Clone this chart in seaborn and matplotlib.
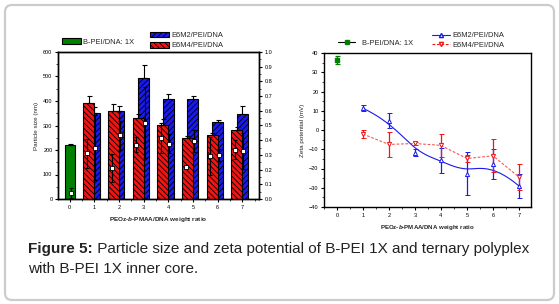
import numpy as np
import pandas as pd
import matplotlib
matplotlib.use('Agg')
import matplotlib.pyplot as plt
import seaborn as sb
from matplotlib.patches import Patch, FancyBboxPatch
from matplotlib.lines import Line2D
from matplotlib.ticker import MultipleLocator

# --- data ---
ratio = np.arange(8)          # PEOz-b-PMAA/DNA weight ratio, 0 = B-PEI/DNA 1X
ratio_tern = ratio[1:]

size_pei = [220]
size_pei_err = [3]
size_e6m2 = [349, 359, 492, 407, 407, 314, 347]
size_e6m2_err = [25, 22, 53, 21, 12, 8, 31]
size_e6m4 = [391, 359, 329, 301, 247, 262, 281]
size_e6m4_err = [28, 27, 17, 25, 11, 9, 11]

pdi_pei = [0.04]
pdi_pei_err = [0.033]
pdi_e6m2 = [0.35, 0.434, 0.52, 0.377, 0.395, 0.298, 0.327]
pdi_e6m2_err = [0.22, 0.10, 0.24, 0.064, 0.073, 0.04, 0.125]
pdi_e6m4 = [0.31, 0.21, 0.37, 0.415, 0.218, 0.295, 0.336]
pdi_e6m4_err = [0.10, 0.095, 0.053, 0.105, 0.01, 0.13, 0.064]

zeta_pei = [36.5]
zeta_pei_err = [2.2]
zeta_e6m2 = [11.3, 4.9, -11.7, -15.7, -22.6, -17.7, -29.0]
zeta_e6m2_err = [1.6, 3.7, 1.6, 6.4, 11.4, 7.6, 6.3]
zeta_e6m4 = [-2.1, -7.5, -7.0, -8.0, -14.8, -13.4, -24.3]
zeta_e6m4_err = [2.2, 6.7, 1.0, 5.8, 1.8, 8.6, 6.7]

labels = ['B-PEI/DNA: 1X', 'E6M2/PEI/DNA', 'E6M4/PEI/DNA']
caption_bold = 'Figure 5:'
caption_rest = ' Particle size and zeta potential of B-PEI 1X and ternary polyplex'
caption_line2 = 'with B-PEI 1X inner core.'

green = '#008000'
blue = '#1a1aee'
red = '#f01414'


def bspline(x, y, n=300, k=3):
    # clamped cubic B-spline with the data points as control points
    pts = np.column_stack([x, y]).astype(float)
    m = len(pts)
    knots = np.concatenate([np.zeros(k), np.linspace(0, 1, m - k + 1), np.ones(k)])
    t = np.linspace(0, 1 - 1e-9, n)

    def N(i, p):
        if p == 0:
            return np.where((knots[i] <= t) & (t < knots[i + 1]), 1.0, 0.0)
        a = 0.0
        d1 = knots[i + p] - knots[i]
        if d1 > 0:
            a = (t - knots[i]) / d1 * N(i, p - 1)
        b = 0.0
        d2 = knots[i + p + 1] - knots[i + 1]
        if d2 > 0:
            b = (knots[i + p + 1] - t) / d2 * N(i + 1, p - 1)
        return a + b

    B = np.array([N(i, k) for i in range(m)])
    curve = B.T @ pts
    curve = np.vstack([curve, pts[-1]])
    return curve[:, 0], curve[:, 1]


sb.set_style('ticks')
plt.rcParams['font.family'] = ['Liberation Sans', 'DejaVu Sans']
plt.rcParams['mathtext.fontset'] = 'custom'
plt.rcParams['mathtext.rm'] = 'Liberation Sans:bold'
plt.rcParams['mathtext.it'] = 'Liberation Sans:italic:bold'
plt.rcParams['hatch.linewidth'] = 0.6
plt.rcParams['axes.linewidth'] = 1.0

W, H = 559, 304
fig = plt.figure(figsize=(W / 100, H / 100), dpi=100)
fig.patch.set_facecolor('white')

# rounded frame around everything
frame = fig.add_axes([0, 0, 1, 1])
frame.set_xlim(0, W)
frame.set_ylim(H, 0)
frame.axis('off')
frame.add_patch(FancyBboxPatch((5, 5), W - 10, H - 9, boxstyle='round,pad=0,rounding_size=7',
                               fc='white', ec='#cccccc', lw=1.6))

tick_fs = 4
lab_fs = 4.5
leg_fs = 5.4


def style_axis(ax):
    ax.tick_params(which='major', length=2.5, width=0.8, labelsize=tick_fs, pad=1.5, colors='k')
    ax.tick_params(which='minor', length=1.3, width=0.6)
    for s in ax.spines.values():
        s.set_linewidth(1.0)
        s.set_color('k')


# ---------------- particle size ----------------
ax1 = fig.add_axes([58 / W, 1 - 199 / H, 201 / W, 147 / H])
ax1.patch.set_alpha(0)
ax1.bar(ratio[:1], size_pei, width=0.4, color=green, edgecolor='k', lw=0.8, zorder=2)
ax1.bar(ratio_tern, size_e6m2, width=0.44, color=blue, edgecolor='k', hatch='//////',
        lw=0.8, zorder=2)
ax1.bar(ratio_tern - 0.22, size_e6m4, width=0.44, color=red, edgecolor='k',
        hatch='\\\\\\\\\\\\', lw=0.8, zorder=3)
ax1.errorbar(ratio[:1], size_pei, yerr=[[0], size_pei_err], fmt='none', ecolor='k',
             elinewidth=0.8, capsize=1.8, capthick=0.8, zorder=4)
ax1.errorbar(ratio_tern, size_e6m2, yerr=[np.zeros(7), size_e6m2_err], fmt='none',
             ecolor='k', elinewidth=0.8, capsize=1.8, capthick=0.8, zorder=1)
ax1.errorbar(ratio_tern - 0.22, size_e6m4, yerr=[np.zeros(7), size_e6m4_err], fmt='none',
             ecolor='k', elinewidth=0.8, capsize=1.8, capthick=0.8, zorder=4)
ax1.set_xlim(-0.47, 7.68)
ax1.set_ylim(0, 600)
ax1.set_xticks(ratio)
ax1.xaxis.set_minor_locator(MultipleLocator(0.5))
ax1.yaxis.set_major_locator(MultipleLocator(100))
ax1.yaxis.set_minor_locator(MultipleLocator(50))
ax1.set_ylabel('Particle size (nm)', fontsize=lab_fs, labelpad=3)
ax1.set_xlabel('PEOz-$b$-PMAA/DNA weight ratio', fontsize=4.6, fontweight='bold', labelpad=4)
style_axis(ax1)

ax1r = ax1.twinx()
ax1r.set_ylim(0, 1.0)
ax1r.yaxis.set_major_locator(MultipleLocator(0.1))
ax1r.yaxis.set_minor_locator(MultipleLocator(0.05))
ax1r.yaxis.set_major_formatter(matplotlib.ticker.FormatStrFormatter('%.1f'))
style_axis(ax1r)

pdi = pd.DataFrame({
    'x': np.concatenate([ratio[:1] + 0.05, ratio_tern - 0.3, ratio_tern + 0.05]),
    'pdi': np.concatenate([pdi_pei, pdi_e6m4, pdi_e6m2]),
    'err': np.concatenate([pdi_pei_err, pdi_e6m4_err, pdi_e6m2_err]),
})
ax1r.errorbar(pdi['x'], pdi['pdi'], yerr=pdi['err'], fmt='none', ecolor='k',
              elinewidth=0.8, capsize=1.5, capthick=0.8, zorder=5)
sb.scatterplot(data=pdi, x='x', y='pdi', ax=ax1r, marker='s', s=7, color='white',
               edgecolor='k', linewidth=0.6, zorder=6)
ax1r.set_xlabel('PEOz-$b$-PMAA/DNA weight ratio', fontsize=4.6, fontweight='bold', labelpad=4)
ax1r.set_ylabel('')

fig.legend(handles=[Patch(fc=green, ec='k', lw=0.8)], labels=labels[:1],
           loc='center left', bbox_to_anchor=(62 / W, 1 - 42 / H), frameon=False,
           fontsize=leg_fs, handlelength=2.5, handleheight=0.8, handletextpad=0.3,
           borderpad=0, borderaxespad=0)
fig.legend(handles=[Patch(fc=blue, ec='k', lw=0.8, hatch='//////'),
                    Patch(fc=red, ec='k', lw=0.8, hatch='\\\\\\\\\\\\')],
           labels=labels[1:], loc='center left', bbox_to_anchor=(150 / W, 1 - 40.5 / H),
           frameon=False, fontsize=leg_fs, handlelength=2.5, handleheight=0.8,
           handletextpad=0.3, labelspacing=0.35, borderpad=0, borderaxespad=0)

# ---------------- zeta potential ----------------
ax2 = fig.add_axes([324 / W, 1 - 207 / H, 207 / W, 154 / H])
ax2.patch.set_alpha(0)
sx, sy = bspline(ratio_tern, zeta_e6m2)
ax2.plot(sx, sy, color=blue, lw=0.8, zorder=2)
ax2.plot(ratio_tern, zeta_e6m4, color=red, lw=0.8, ls=(0, (2.5, 1.5)), alpha=0.7, zorder=2)
ax2.errorbar(ratio[:1], zeta_pei, yerr=zeta_pei_err, fmt='s', ms=2.8, color=green,
             ecolor=green, elinewidth=0.9, capsize=1.8, capthick=0.9, zorder=3)
ax2.errorbar(ratio_tern, zeta_e6m2, yerr=zeta_e6m2_err, fmt='^', ms=3, mfc='white',
             mec=blue, mew=0.7, ecolor=blue, elinewidth=0.9, capsize=1.8, capthick=0.9,
             zorder=3)
ax2.errorbar(ratio_tern, zeta_e6m4, yerr=zeta_e6m4_err, fmt='v', ms=3, mfc='white',
             mec=red, mew=0.7, ecolor=red, elinewidth=0.9, capsize=1.8, capthick=0.9,
             zorder=3)
ax2.set_xlim(-0.5, 7.47)
ax2.set_ylim(-40, 40)
ax2.set_xticks(ratio)
ax2.xaxis.set_minor_locator(MultipleLocator(0.5))
ax2.yaxis.set_major_locator(MultipleLocator(10))
ax2.yaxis.set_minor_locator(MultipleLocator(5))
ax2.set_ylabel('Zeta potential (mV)', fontsize=lab_fs, labelpad=3)
ax2.set_xlabel('PEOz-$b$-PMAA/DNA weight ratio', fontsize=4.4, fontweight='bold', labelpad=4)
style_axis(ax2)

fig.legend(handles=[Line2D([], [], color='k', lw=0.8, marker='s', ms=2.8,
                           mfc=green, mec=green)],
           labels=labels[:1], loc='center left', bbox_to_anchor=(338 / W, 1 - 43 / H),
           frameon=False, fontsize=leg_fs, handlelength=2.3, handletextpad=0.9,
           borderpad=0, borderaxespad=0)
fig.legend(handles=[Line2D([], [], color=blue, lw=0.8, marker='^', ms=3, mfc='white', mec=blue),
                    Line2D([], [], color=red, lw=0.8, ls=(0, (2.5, 1.5)), marker='v', ms=3,
                           mfc='white', mec=red)],
           labels=labels[1:], loc='center left', bbox_to_anchor=(432 / W, 1 - 40.5 / H),
           frameon=False, fontsize=leg_fs, handlelength=2.4, handletextpad=0.3,
           labelspacing=0.35, borderpad=0, borderaxespad=0)

# ---------------- caption ----------------
cap_fs = 11.0
t1 = fig.text(28 / W, 1 - 253 / H, caption_bold, fontsize=cap_fs, fontweight='bold',
              va='baseline', color='#222222')
fig.canvas.draw()
bb = t1.get_window_extent()
fig.text(bb.x1 / W, 1 - 253 / H, caption_rest, fontsize=cap_fs, va='baseline', color='#222222')
fig.text(28 / W, 1 - 273 / H, caption_line2, fontsize=cap_fs, va='baseline', color='#222222')

fig.savefig('out.png', dpi=100)
